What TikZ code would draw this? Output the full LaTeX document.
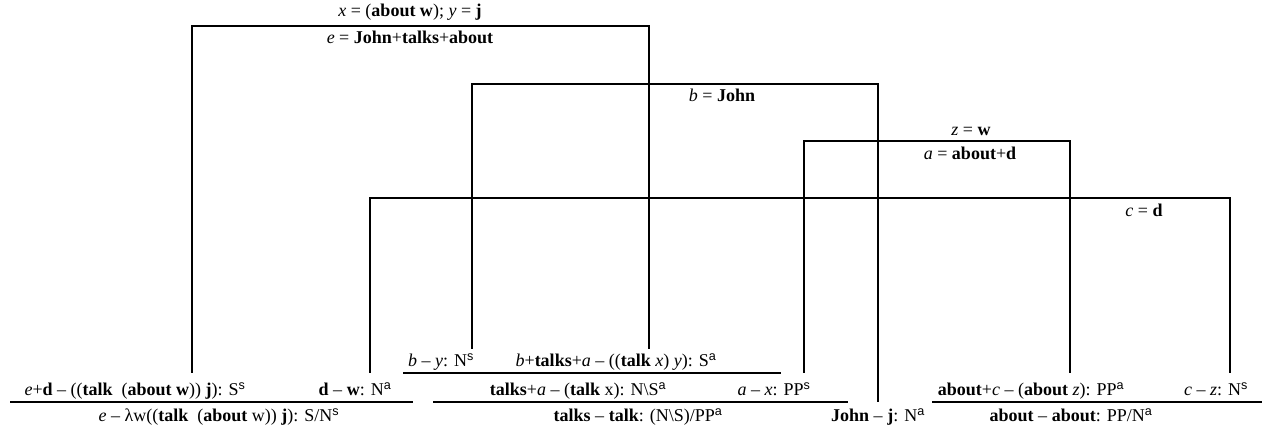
\documentclass[tikz,border=0pt]{standalone}
\usepackage{fontspec}
\setmainfont{Liberation Serif}
\setsansfont{Liberation Sans}
\newcommand\iv[1]{\textit{#1}}
\newcommand\bd[1]{\textbf{#1}}
\newcommand\spx[1]{\textsuperscript{\sffamily #1}}
\newcommand\fs{\fontsize{18}{21}\selectfont}
\begin{document}
\begin{tikzpicture}[x=1pt,y=-1pt,
  every node/.style={font=\fs, inner sep=0pt},
  lbl/.style={anchor=base},
  conn/.style={line width=1.6pt},
  rulel/.style={line width=1.6pt}]
\useasboundingbox (0,0) rectangle (1262,438);
% bracket labels
\node[lbl] (xy) at (410,17) {\iv{x} = (\bd{about w}); \iv{y} = \bd{j}};
\node[lbl] (eq) at (410,44) {\iv{e} = \bd{John}+\bd{talks}+\bd{about}};
\node[lbl] (bq) at (722,102) {\iv{b} = \bd{John}};
\node[lbl] (zq) at (971,136) {\iv{z} = \bd{w}};
\node[lbl] (aq) at (970,160) {\iv{a} = \bd{about}+\bd{d}};
\node[lbl] (cq) at (1144,217) {\iv{c} = \bd{d}};
% row A
\node[lbl] (by) at (441,367) {\iv{b} -- \iv{y}: N\spx{s}};
\node[lbl] (bt) at (616,367) {\iv{b}+\bd{talks}+\iv{a} -- ((\bd{talk} \iv{x}) \iv{y}): S\spx{a}};
% row B
\node[lbl] (ed) at (135,396) {\iv{e}+\bd{d} -- ((\bd{talk}\ \ (\bd{about w})) \bd{j}): S\spx{s}};
\node[lbl] (dw) at (355,396) {\bd{d} -- \bd{w}: N\spx{a}};
\node[lbl] (ta) at (578,396) {\bd{talks}+\iv{a} -- (\bd{talk} x): N\textbackslash S\spx{a}};
\node[lbl] (ax) at (774,396) {\iv{a} -- \iv{x}: PP\spx{s}};
\node[lbl] (ac) at (1031,396) {\bd{about}+\iv{c} -- (\bd{about} \iv{z}): PP\spx{a}};
\node[lbl] (cz) at (1216,396) {\iv{c} -- \iv{z}: N\spx{s}};
% row C
\node[lbl] (el) at (219,422) {\iv{e} -- λw((\bd{talk}\ \ (\bd{about} w)) \bd{j}): S/N\spx{s}};
\node[lbl] (tt) at (638,422) {\bd{talks} -- \bd{talk}: (N\textbackslash S)/PP\spx{a}};
\node[lbl] (jn) at (878,422) {\bd{John} -- \bd{j}: N\spx{a}};
\node[lbl] (ab) at (1071,422) {\bd{about} -- \bd{about}: PP/N\spx{a}};
% inference rules
\coordinate (rA1) at (403,373); \coordinate (rA2) at (781,373);
\coordinate (rB1) at (10,402);  \coordinate (rB2) at (413,402);
\coordinate (rC1) at (433,402); \coordinate (rC2) at (848,402);
\coordinate (rD1) at (932,402); \coordinate (rD2) at (1262,402);
\draw[rulel] (rA1) -- (rA2);
\draw[rulel] (rB1) -- (rB2);
\draw[rulel] (rC1) -- (rC2);
\draw[rulel] (rD1) -- (rD2);
% bracket connectors
\coordinate (e1) at (192,373); \coordinate (e2) at (649,349);
\coordinate (b1) at (472,349); \coordinate (b2) at (878,402);
\coordinate (z1) at (804,373); \coordinate (z2) at (1070,373);
\coordinate (c1) at (370,373); \coordinate (c2) at (1230,373);
\draw[conn] (e1) |- (649,26) -- (e2);
\draw[conn] (b1) |- (878,84) -- (b2);
\draw[conn] (z1) |- (1070,141) -- (z2);
\draw[conn] (c1) |- (1230,198) -- (c2);
\end{tikzpicture}
\end{document}
